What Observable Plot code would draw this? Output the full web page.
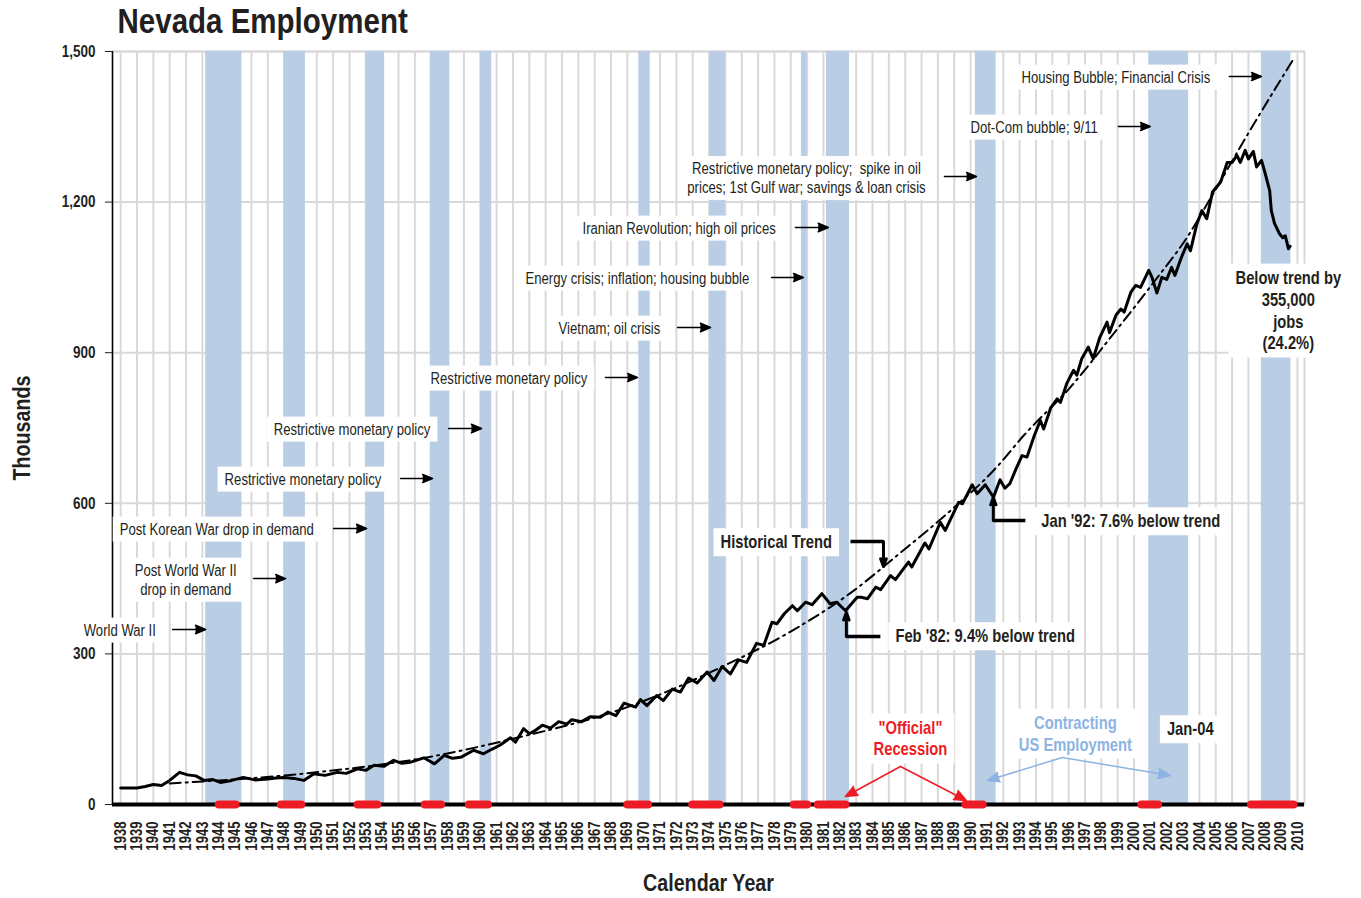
<!DOCTYPE html>
<html><head><meta charset="utf-8">
<script src="https://cdn.jsdelivr.net/npm/d3@7"></script>
<script src="https://cdn.jsdelivr.net/npm/@observablehq/plot@0.6"></script>
<style>
body{margin:0;background:#fff}
#chart{position:relative;width:1361px;height:898px}
</style>
</head><body><div id="chart"></div>
<script>
// ---------- data ----------
const xDomain = [1937.5, 2010.43];
const yDomain = [0, 1500];
const yearTicks = d3.range(1938, 2011);
const yTicks = [0, 300, 600, 900, 1200, 1500];

// Nevada employment (thousands)
const empYear = [1938.0,1939.0,1939.5,1940.0,1940.5,1941.0,1941.6,1942.1,1942.6,1943.1,1943.6,1944.1,1944.8,1945.5,1946.2,1947.0,1947.5,1948.0,1948.6,1949.2,1949.8,1950.5,1951.25,1951.8,1952.5,1953.0,1953.5,1954.1,1954.7,1955.2,1955.7,1956.55,1957.2,1957.8,1958.3,1958.8,1959.6,1960.2,1960.7,1961.2,1961.85,1962.15,1962.65,1963.0,1963.3,1963.8,1964.3,1964.8,1965.3,1965.6,1966.2,1966.75,1967.35,1967.8,1968.3,1968.8,1969.5,1969.8,1970.2,1970.8,1971.2,1971.75,1972.25,1972.75,1973.27,1973.88,1974.3,1974.8,1975.3,1975.8,1976.3,1976.9,1977.35,1977.85,1978.15,1978.6,1979.1,1979.4,1979.9,1980.3,1980.9,1981.4,1981.8,1982.35,1983.06,1983.3,1983.7,1984.2,1984.5,1985.1,1985.4,1986.2,1986.4,1987.2,1987.45,1988.15,1988.45,1989.27,1989.5,1990.1,1990.4,1990.9,1991.4,1991.8,1992.1,1992.4,1992.8,1993.15,1993.45,1993.9,1994.27,1994.47,1994.9,1995.3,1995.5,1995.9,1996.3,1996.5,1996.8,1997.2,1997.5,1997.9,1998.35,1998.5,1998.9,1999.2,1999.4,1999.8,2000.1,2000.4,2000.9,2001.1,2001.4,2001.7,2002.0,2002.3,2002.5,2002.9,2003.25,2003.45,2003.85,2004.15,2004.45,2004.8,2005.3,2005.7,2006.0,2006.3,2006.5,2006.8,2007.0,2007.3,2007.5,2007.8,2008.0,2008.3,2008.4,2008.6,2008.9,2009.1,2009.25,2009.45,2009.55];
const empValue = [33,33,36,40,38,48,64,59,57,48,50,44,48,54,49,51,53,54,52,48,61,58,64,62,71,68,78,76,88,82,84,93,81,98,92,94,108,101,110,118,133,124,151,141,146,158,152,165,160,169,165,175,174,184,177,202,194,209,197,217,207,230,224,252,242,264,247,275,260,288,283,321,317,363,360,380,396,386,403,398,420,400,403,386,413,413,410,433,428,456,448,483,473,521,509,562,546,602,599,637,619,637,612,647,630,639,670,695,692,735,765,748,790,808,801,840,865,855,888,911,888,930,961,940,975,987,981,1020,1034,1030,1064,1050,1019,1050,1046,1070,1054,1090,1117,1103,1157,1183,1167,1220,1240,1279,1279,1293,1279,1303,1286,1301,1270,1283,1260,1223,1183,1157,1137,1129,1133,1107,1112];

// Historical trend
const trendYear = [1941.0,1949.0,1957.1,1962.0,1969.0,1974.7,1978.8,1982.85,1985.5,1988.55,1991.6,1993.25,1996.1,1998.75,2001.2,2003.25,2004.9,2007.1,2009.7];
const trendValue = [42,61,96,131,194,273,341,426,496,579,672,735,831,938,1040,1130,1220,1343,1482];

// Contracting US employment (blue bands)
const bandStart = [1943.2,1947.99,1953.0,1956.94,1960.02,1969.7,1974.04,1979.65,1981.18,1990.29,2000.9,2007.79];
const bandEnd   = [1945.42,1949.3,1954.15,1958.14,1960.7,1970.4,1975.0,1980.0,1982.59,1991.56,2003.34,2009.6];

// Official recessions (red bars)
const recStart = [1944.0,1947.8,1952.5,1956.6,1959.3,1969.0,1972.97,1979.18,1980.65,1989.68,2000.45,2007.15];
const recEnd   = [1945.03,1949.05,1953.7,1957.6,1960.47,1970.27,1974.64,1980.0,1982.34,1990.74,2001.47,2009.76];

// Event notes
const noteText = ["World War II","Post World War II\ndrop in demand","Post Korean War drop in demand","Restrictive monetary policy","Restrictive monetary policy","Restrictive monetary policy","Vietnam; oil crisis","Energy crisis; inflation; housing bubble","Iranian Revolution; high oil prices","Restrictive monetary policy;  spike in oil\nprices; 1st Gulf war; savings & loan crisis","Dot-Com bubble; 9/11","Housing Bubble; Financial Crisis"];
const noteX = [1935.74,1941.98,1937.94,1944.36,1947.36,1956.96,1964.79,1962.77,1966.26,1979.96,1989.99,1993.11];
const noteY = [348.6,449,549.8,649.4,749,850.6,950.2,1049.8,1149.4,1249,1350.6,1450.2];
const noteAnchor = ["start","middle","start","start","start","start","start","start","start","middle","start","start"];
const noteArrowX1 = [1941.18,1946.13,1951.03,1955.13,1958.06,1967.66,1972.07,1977.82,1979.28,1988.40,1999.04,2005.83];
const noteArrowX2 = [1943.20,1948.09,1953.05,1957.08,1960.08,1969.62,1974.09,1979.77,1981.30,1990.36,2001.00,2007.79];
const noteArrowY  = [348.6,450,549.8,649.4,749,850.6,950.2,1049.8,1149.4,1251,1350.6,1450.2];

// Bold call-outs
const calloutText = ["Historical Trend","Feb '82: 9.4% below trend","Jan '92: 7.6% below trend"];
const calloutX = [1974.7,1985.4,1994.33];
const calloutY = [522,334.7,563.7];
const elbowX1 = [1982.65,1984.48,1993.35];
const elbowX2 = [1984.67,1982.4,1991.39];
const elbowY1 = [524,334.7,565.7];
const elbowY2 = [474,382.5,611.5];

const gapText = "Below trend by\n355,000\njobs\n(24.2%)";
const gapX = 2009.44, gapY = 986;
const jan04Text = "Jan-04";
const jan04X = 2003.44, jan04Y = 149.4;

const recLabel = "\"Official\"\nRecession";
const recLabelX = 1986.32, recLabelY = 133.5;
const recArrowX1 = [1985.71,1985.71], recArrowY1 = [75.7,75.7];
const recArrowX2 = [1982.34,1989.74], recArrowY2 = [15.9,8];

const usLabel = "Contracting\nUS Employment";
const usLabelX = 1996.41, usLabelY = 143.4;
const usArrowX1 = [1995.61,1995.61], usArrowY1 = [93.6,93.6];
const usArrowX2 = [1991.03,2002.22], usArrowY2 = [47.8,57.8];

// ---------- tables ----------
const employment = empYear.map((x, i) => ({x, y: empValue[i]}));
const trend = trendYear.map((x, i) => ({x, y: trendValue[i]}));
const bands = bandStart.map((s, i) => ({x1: s, x2: bandEnd[i]}));
const recessions = recStart.map((s, i) => ({x1: s, x2: recEnd[i]}));
const notes = noteText.map((t, i) => ({text: t, x: noteX[i], y: noteY[i], anchor: noteAnchor[i]}));
const noteArrows = noteArrowX1.map((x1, i) => ({x1, x2: noteArrowX2[i], y: noteArrowY[i]}));
const callouts = calloutText.map((t, i) => ({text: t, x: calloutX[i], y: calloutY[i]}));
const elbowH = elbowX1.map((x1, i) => ({x1, x2: elbowX2[i], y: elbowY1[i]}));
const elbowV = elbowX2.map((x, i) => ({x, y1: elbowY1[i], y2: elbowY2[i]}));
const recArrows = recArrowX1.map((x1, i) => ({x1, y1: recArrowY1[i], x2: recArrowX2[i], y2: recArrowY2[i]}));
const usArrows = usArrowX1.map((x1, i) => ({x1, y1: usArrowY1[i], x2: usArrowX2[i], y2: usArrowY2[i]}));

// ---------- style ----------
const FONT = "'Liberation Sans',Arial,sans-serif";
const NARROW = 0.82; // Arial Narrow look
const INK = "#231f20";
const GRID = "#d9d9d9";
const BAND = "#b9cde5";
const RED = "#ed1c24";
const LIGHTBLUE = "#8db4e2";

const plot = Plot.plot({
  width: 1361,
  height: 898,
  marginTop: 51,
  marginBottom: 94,
  marginLeft: 112,
  marginRight: 57,
  x: {domain: xDomain, axis: null},
  y: {domain: yDomain, axis: null},
  style: {fontFamily: FONT, background: "white", color: INK},
  marks: [
    Plot.ruleX(yearTicks, {stroke: GRID, strokeWidth: 2}),
    Plot.ruleY(yTicks.slice(1), {stroke: GRID, strokeWidth: 2}),
    Plot.frame({stroke: GRID, strokeWidth: 2}),
    Plot.rect(bands, {x1: "x1", x2: "x2", fill: BAND}),
    Plot.line(trend, {x: "x", y: "y", stroke: "black", strokeWidth: 2, strokeDasharray: "11,5,2,5", curve: "monotone-x"}),
    Plot.line(employment, {x: "x", y: "y", stroke: "black", strokeWidth: 3, strokeLinejoin: "round"}),
    Plot.ruleY([0], {stroke: "black", strokeWidth: 4}),
    Plot.link(recessions, {x1: "x1", x2: "x2", y1: 0, y2: 0, stroke: RED, strokeWidth: 8, strokeLinecap: "round"}),
    Plot.ruleX([xDomain[0]], {stroke: "black", strokeWidth: 1.5}),
    Plot.axisY({ticks: yTicks, tickFormat: d3.format(","), tickSize: 7, tickPadding: 10, fontSize: 16.5, fontWeight: "bold", label: null, fill: INK}),
    Plot.axisX({ticks: yearTicks, tickFormat: d => String(d), tickRotate: -90, tickSize: 0, tickPadding: 17, fontSize: 16, fontWeight: "bold", label: null, fill: INK}),
    // event notes
    Plot.text(notes, {x: "x", y: "y", text: "text", textAnchor: "start", filter: d => d.anchor === "start", fontSize: 16, lineHeight: 1.19, fill: INK, className: "boxed"}),
    Plot.text(notes, {x: "x", y: "y", text: "text", textAnchor: "middle", filter: d => d.anchor === "middle", fontSize: 16, lineHeight: 1.19, fill: INK, className: "boxed"}),
    Plot.arrow(noteArrows, {x1: "x1", x2: "x2", y1: "y", y2: "y", stroke: "black", fill: "black", strokeWidth: 1.5, headLength: 11, headAngle: 45}),
    // bold call-outs
    Plot.text(callouts, {x: "x", y: "y", text: "text", textAnchor: "start", fontSize: 18, fontWeight: "bold", fill: INK, className: "boxed"}),
    Plot.link(elbowH, {x1: "x1", x2: "x2", y1: "y", y2: "y", stroke: "black", strokeWidth: 3.5}),
    Plot.arrow(elbowV, {x1: "x", x2: "x", y1: "y1", y2: "y2", stroke: "black", fill: "black", strokeWidth: 3, headLength: 12, headAngle: 40, strokeLinejoin: "round"}),
    Plot.text([gapText], {x: gapX, y: gapY, text: d => d, fontSize: 18, fontWeight: "bold", lineHeight: 1.22, fill: INK, className: "boxed"}),
    Plot.text([jan04Text], {x: jan04X, y: jan04Y, text: d => d, fontSize: 18, fontWeight: "bold", fill: INK, className: "boxed"}),
    Plot.text([recLabel], {x: recLabelX, y: recLabelY, text: d => d, fontSize: 18, fontWeight: "bold", lineHeight: 1.22, fill: RED, className: "boxed"}),
    Plot.arrow(recArrows, {x1: "x1", y1: "y1", x2: "x2", y2: "y2", stroke: RED, fill: RED, strokeWidth: 1.5, headLength: 13, headAngle: 45}),
    Plot.text([usLabel], {x: usLabelX, y: usLabelY, text: d => d, fontSize: 18, fontWeight: "bold", lineHeight: 1.22, fill: LIGHTBLUE, className: "boxed"}),
    Plot.arrow(usArrows, {x1: "x1", y1: "y1", x2: "x2", y2: "y2", stroke: LIGHTBLUE, fill: LIGHTBLUE, strokeWidth: 1.5, headLength: 13, headAngle: 45}),
    // titles
    Plot.text(["Nevada Employment"], {frameAnchor: "top-left", text: d => d, textAnchor: "start", lineAnchor: "middle", dx: 5, dy: -30, fontSize: 36, fontWeight: "bold", fill: INK}),
    Plot.text(["Thousands"], {frameAnchor: "left", text: d => d, rotate: -90, textAnchor: "middle", lineAnchor: "middle", dx: -90, fontSize: 24, fontWeight: "bold", fill: INK}),
    Plot.text(["Calendar Year"], {frameAnchor: "bottom", text: d => d, textAnchor: "middle", lineAnchor: "middle", dy: 79, fontSize: 24, fontWeight: "bold", fill: INK})
  ]
});

document.getElementById("chart").appendChild(plot);

// Narrow the type (Arial Narrow look): wrap each text in a group scaled along
// the text direction about its anchor; put white boxes behind the notes.
const NS = "http://www.w3.org/2000/svg";
plot.querySelectorAll("text").forEach(t => {
  const w = document.createElementNS(NS, "g");
  t.parentNode.insertBefore(w, t);
  w.appendChild(t);
  const bb = w.getBBox();
  const anchor = getComputedStyle(t).textAnchor;
  const vertical = bb.height > bb.width * 1.5 && bb.height > 25 && !t.querySelector("tspan");
  let box;
  if (!vertical) {
    const ax = anchor === "middle" ? bb.x + bb.width / 2 : anchor === "end" ? bb.x + bb.width : bb.x;
    w.setAttribute("transform", `translate(${ax},0) scale(${NARROW},1) translate(${-ax},0)`);
    box = {x: ax + (bb.x - ax) * NARROW, y: bb.y, w: bb.width * NARROW, h: bb.height};
  } else {
    const ay = anchor === "middle" ? bb.y + bb.height / 2 : anchor === "end" ? bb.y : bb.y + bb.height;
    w.setAttribute("transform", `translate(0,${ay}) scale(1,${NARROW}) translate(0,${-ay})`);
  }
  if (box && t.closest("g.boxed")) {
    const r = document.createElementNS(NS, "rect");
    r.setAttribute("x", box.x - 7);
    r.setAttribute("y", box.y - 4);
    r.setAttribute("width", box.w + 14);
    r.setAttribute("height", box.h + 8);
    r.setAttribute("fill", "white");
    r.setAttribute("stroke", "none");
    w.parentNode.insertBefore(r, w);
  }
});
</script>
</body></html>
